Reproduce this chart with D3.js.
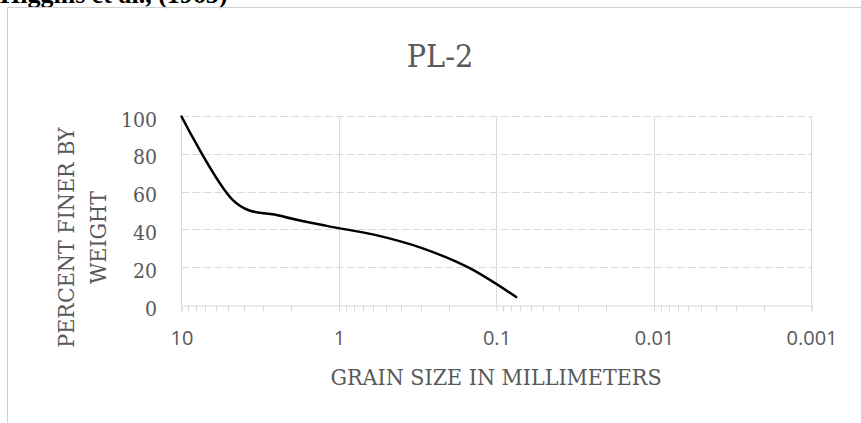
<!DOCTYPE html>
<html>
<head>
<meta charset="utf-8">
<script src="https://cdn.jsdelivr.net/npm/d3@7/dist/d3.min.js"></script>
<style>
  html, body { margin: 0; padding: 0; background: #fff; }
  svg { display: block; }
  .serif { font-family: 'DejaVu Serif Condensed', 'DejaVu Serif', serif; font-stretch: condensed; }
</style>
</head>
<body>
<svg id="chart" width="861" height="423"></svg>
<script>
// Sieve analysis for sample PL-2
const sieveSizes   = [10, 4.75, 2.36, 1.18, 0.6, 0.3, 0.15, 0.075]; // mm
const percentFiner = [100, 56, 47.5, 42, 37.5, 30.5, 20, 4.5];      // %
const xTickValues  = [10, 1, 0.1, 0.01, 0.001];
const xTickLabels  = ["10", "1", "0.1", "0.01", "0.001"];
const yTickValues  = [0, 20, 40, 60, 80, 100];
const yTickLabels  = ["0", "20", "40", "60", "80", "100"];

const chartTitle = "PL-2";
const xTitle = "GRAIN SIZE IN MILLIMETERS";
const yTitleLines = ["PERCENT FINER BY", "WEIGHT"];
const sourceNote = "Higgins et al., (1965)";

const textColor = "#595959";
const gridColor = "#d9d9d9";

const svg = d3.select("#chart");
svg.append("rect").attr("width", 861).attr("height", 423).attr("fill", "#fff");

// Heading text above the chart (partly outside the window)
svg.append("text")
  .attr("x", 0).attr("y", 2.5)
  .attr("font-family", "'Liberation Serif', 'Times New Roman', serif")
  .attr("font-weight", "bold")
  .attr("font-size", 26)
  .attr("fill", "#000")
  .text(sourceNote);

// Chart area border
svg.append("rect")
  .attr("x", 7.5).attr("y", 7.5)
  .attr("width", 900).attr("height", 500)
  .attr("fill", "none")
  .attr("stroke", "#d0d0d0")
  .attr("stroke-width", 1);

const x = d3.scaleLog().domain([10, 0.001]).range([181.5, 811.5]);
const y = d3.scaleLinear().domain([0, 100]).range([305.5, 116.5]);

const crisp = v => Math.round(v - 0.5) + 0.5;

// Horizontal gridlines (dashed)
svg.append("g").selectAll("line")
  .data(yTickValues.filter(v => v > 0))
  .join("line")
  .attr("x1", x(10)).attr("x2", x(0.001))
  .attr("y1", d => crisp(y(d))).attr("y2", d => crisp(y(d)))
  .attr("stroke", gridColor)
  .attr("stroke-width", 1)
  .attr("stroke-dasharray", "8,3");

// Vertical gridlines at each decade
svg.append("g").selectAll("line")
  .data(xTickValues)
  .join("line")
  .attr("x1", d => crisp(x(d))).attr("x2", d => crisp(x(d)))
  .attr("y1", y(100)).attr("y2", y(0))
  .attr("stroke", gridColor)
  .attr("stroke-width", 1);

// X axis with major ticks and labels
const xAxis = d3.axisBottom(x)
  .tickValues(xTickValues)
  .tickSize(6)
  .tickFormat((d, i) => xTickLabels[i]);

const gx = svg.append("g")
  .attr("transform", `translate(0,${y(0)})`)
  .call(xAxis);
gx.select(".domain").attr("stroke", gridColor).attr("stroke-width", 1);
gx.selectAll(".tick line").attr("stroke", gridColor);
gx.selectAll(".tick text")
  .attr("y", 39.5).attr("dy", 0)
  .attr("fill", textColor)
  .attr("font-family", "'Open Sans', 'Liberation Sans', sans-serif")
  .attr("font-size", 20);

// Minor ticks (2..9 within each decade)
const minorTicks = x.ticks().filter(v => !xTickValues.some(m => Math.abs(Math.log10(v) - Math.log10(m)) < 1e-9));
svg.append("g").selectAll("line")
  .data(minorTicks)
  .join("line")
  .attr("x1", d => crisp(x(d))).attr("x2", d => crisp(x(d)))
  .attr("y1", y(0)).attr("y2", y(0) + 6)
  .attr("stroke", gridColor)
  .attr("stroke-width", 1);

// Y axis labels (no tick marks)
const yAxis = d3.axisLeft(y)
  .tickValues(yTickValues)
  .tickSize(0)
  .tickPadding(0)
  .tickFormat((d, i) => yTickLabels[i]);
const gy = svg.append("g")
  .attr("transform", `translate(157,0)`)
  .call(yAxis);
gy.select(".domain").remove();
gy.selectAll(".tick text")
  .attr("x", 0).attr("dy", 0).attr("y", 9.5)
  .attr("fill", textColor)
  .attr("class", "serif")
  .attr("font-size", 21);

// Grain size distribution curve
const pts = sieveSizes.map((s, i) => [x(s), y(percentFiner[i])]);
svg.append("path")
  .attr("d", d3.line().curve(d3.curveCardinal.tension(0))(pts))
  .attr("fill", "none")
  .attr("stroke", "#000")
  .attr("stroke-width", 2.5)
  .attr("stroke-linejoin", "round")
  .attr("stroke-linecap", "round");

// Chart title
svg.append("text")
  .attr("class", "serif")
  .attr("x", 440).attr("y", 67)
  .attr("text-anchor", "middle")
  .attr("font-size", 32)
  .attr("fill", textColor)
  .text(chartTitle);

// X axis title
svg.append("text")
  .attr("class", "serif")
  .attr("x", 496).attr("y", 385)
  .attr("text-anchor", "middle")
  .attr("font-size", 23)
  .attr("fill", textColor)
  .text(xTitle);

// Y axis title, two lines rotated
const yTitle = svg.append("g");
const baselines = [74, 106];
yTitleLines.forEach((line, i) => {
  yTitle.append("text")
    .attr("class", "serif")
    .attr("transform", `translate(${baselines[i]},237.5) rotate(-90)`)
    .attr("text-anchor", "middle")
    .attr("font-size", 23)
    .attr("fill", textColor)
    .text(line);
});
</script>
</body>
</html>
